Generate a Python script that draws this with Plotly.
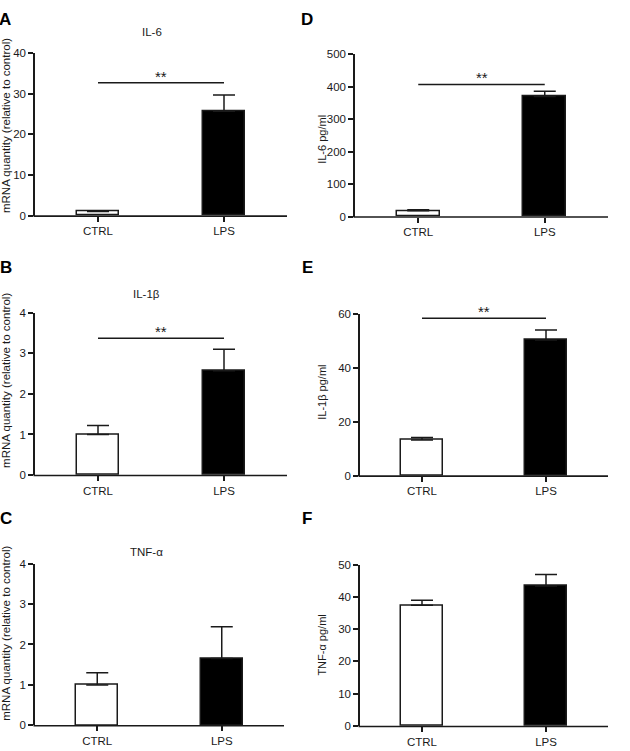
import plotly.graph_objects as go

W, H = 630, 751

categories = ["CTRL", "LPS"]

# Panel A: IL-6 mRNA
il6_mrna = [1.0, 25.7]
il6_mrna_err = [0.15, 4.0]
# Panel B: IL-1β mRNA
il1b_mrna = [1.0, 2.57]
il1b_mrna_err = [0.22, 0.53]
# Panel C: TNF-α mRNA
tnf_mrna = [1.0, 1.65]
tnf_mrna_err = [0.30, 0.79]
# Panel D: IL-6 pg/ml
il6_pg = [18, 370]
il6_pg_err = [3, 16]
# Panel E: IL-1β pg/ml
il1b_pg = [13.2, 50.3]
il1b_pg_err = [0.9, 3.7]
# Panel F: TNF-α pg/ml
tnf_pg = [37.4, 43.4]
tnf_pg_err = [1.6, 3.55]

# significance bar heights (data units)
sig_A, sig_B, sig_D, sig_E = 32.7, 3.37, 407, 58.3

FONT = "Liberation Sans, Arial, sans-serif"
INK = "#1a1a1a"

panels = [
    dict(letter="A", title="IL-6", ytitle="mRNA quantity (relative to control)", ts=11.5,
         vals=il6_mrna, errs=il6_mrna_err, yr=[0, 40], dt=10, sig=sig_A,
         box=(35, 287, 48, 213), tx=6, ty=122, title_xy=(152, 26), letter_xy=(5, 14)),
    dict(letter="D", title="", ytitle="IL-6 pg/ml", ts=11,
         vals=il6_pg, errs=il6_pg_err, yr=[0, 500], dt=100, sig=sig_D,
         box=(355, 608, 49, 214), tx=322, ty=136, title_xy=None, letter_xy=(307, 14)),
    dict(letter="B", title="IL-1β", ytitle="mRNA quantity (relative to control)", ts=11.5,
         vals=il1b_mrna, errs=il1b_mrna_err, yr=[0, 4], dt=1, sig=sig_B,
         box=(35, 287, 311.7, 476.7), tx=6, ty=381, title_xy=(146, 293), letter_xy=(6, 266)),
    dict(letter="E", title="", ytitle="IL-1β pg/ml", ts=11,
         vals=il1b_pg, errs=il1b_pg_err, yr=[0, 60], dt=20, sig=sig_E,
         box=(360, 608, 312.7, 477.3), tx=322, ty=393, title_xy=None, letter_xy=(307, 266)),
    dict(letter="C", title="TNF-α", ytitle="mRNA quantity (relative to control)", ts=11.5,
         vals=tnf_mrna, errs=tnf_mrna_err, yr=[0, 4], dt=1, sig=None,
         box=(35, 284, 566.7, 731), tx=6, ty=638, title_xy=(146, 555), letter_xy=(6, 521)),
    dict(letter="F", title="", ytitle="TNF-α pg/ml", ts=11,
         vals=tnf_pg, errs=tnf_pg_err, yr=[0, 50], dt=10, sig=None,
         box=(360, 608, 567.7, 731.7), tx=322, ty=650, title_xy=None, letter_xy=(307, 521)),
]

fig = go.Figure()
annotations = []
shapes = []

for i, p in enumerate(panels, start=1):
    xa = "x" if i == 1 else f"x{i}"
    ya = "y" if i == 1 else f"y{i}"
    x0, x1, yt, yb = p["box"]
    fig.add_trace(go.Bar(
        x=categories, y=p["vals"], xaxis=xa, yaxis=ya, width=0.34,
        marker=dict(color=["white", "black"], line=dict(color=INK, width=1.5)),
        error_y=dict(type="data", symmetric=False, array=p["errs"], arrayminus=[0, 0],
                     color=INK, thickness=1.5, width=11),
        showlegend=False, hoverinfo="skip",
    ))
    axis_common = dict(linecolor=INK, linewidth=1.5, ticks="outside",
                       ticklen=5, tickwidth=1.5, tickcolor=INK, showgrid=False,
                       zeroline=False, tickfont=dict(family=FONT, size=11.5, color=INK))
    fig.update_layout({
        ("xaxis" if i == 1 else f"xaxis{i}"): dict(
            domain=[x0 / W, x1 / W], anchor=ya, range=[-0.5, 1.5], showline=False,
            type="category", fixedrange=True, **axis_common),
        ("yaxis" if i == 1 else f"yaxis{i}"): dict(
            domain=[1 - yb / H, 1 - yt / H], anchor=xa, range=p["yr"], showline=True,
            dtick=p["dt"], tick0=0, fixedrange=True, **axis_common),
    })
    # x-axis baseline drawn on top so it meets the bar bottoms
    shapes.append(dict(type="line", xref="paper", yref="paper", layer="above",
                       x0=(x0 - 1.5) / W, x1=x1 / W, y0=1 - (yb + 0.5) / H, y1=1 - (yb + 0.5) / H,
                       line=dict(color=INK, width=1.6)))
    annotations.append(dict(text=p["ytitle"], xref="paper", yref="paper",
                            x=p["tx"] / W, y=1 - p["ty"] / H, textangle=-90,
                            showarrow=False, xanchor="center", yanchor="middle",
                            font=dict(family=FONT, size=p["ts"], color=INK)))
    lx, ly = p["letter_xy"]
    annotations.append(dict(text=f"<b>{p['letter']}</b>", xref="paper", yref="paper",
                            x=lx / W, y=1 - ly / H, showarrow=False,
                            xanchor="center", yanchor="middle",
                            font=dict(family=FONT, size=17, color="black")))
    if p["title_xy"]:
        tx, ty = p["title_xy"]
        annotations.append(dict(text=p["title"], xref="paper", yref="paper",
                                x=tx / W, y=1 - ty / H, showarrow=False,
                                xanchor="center", yanchor="middle",
                                font=dict(family=FONT, size=11.5, color=INK)))
    if p["sig"] is not None:
        shapes.append(dict(type="line", xref=xa, yref=ya, x0=0, x1=1,
                           y0=p["sig"], y1=p["sig"], line=dict(color=INK, width=1.5)))
        annotations.append(dict(text="**", xref=xa, yref=ya, x=0.5, y=p["sig"],
                                showarrow=False, xanchor="center", yanchor="bottom",
                                yshift=-4, font=dict(family=FONT, size=15, color=INK)))

fig.update_layout(width=W, height=H, margin=dict(l=0, r=0, t=0, b=0),
                  paper_bgcolor="white", plot_bgcolor="white",
                  annotations=annotations, shapes=shapes, bargap=0)

fig.write_html("out.html")
